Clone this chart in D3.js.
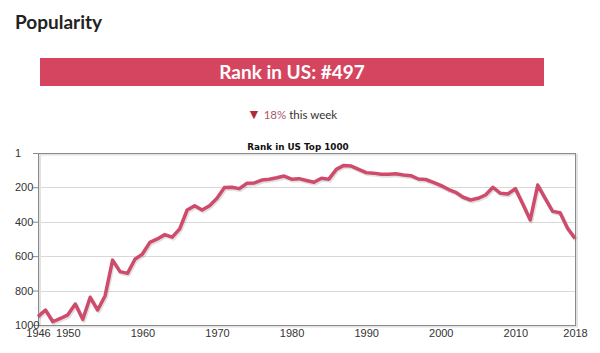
<!DOCTYPE html>
<html>
<head>
<meta charset="utf-8">
<script src="https://cdn.jsdelivr.net/npm/d3@7"></script>
<style>
  body { margin: 0; background: #fff; }
  svg { display: block; }
</style>
</head>
<body>
<div id="wrapper"></div>
<script>
// dados
const years = d3.range(1946, 2019)
const ranks = [
  951, 913, 981, 962, 941, 878, 967, 839, 913, 830,
  623, 690, 700, 618, 588, 520, 500, 475, 490, 442,
  332, 307, 332, 307, 264, 202, 200, 208, 177, 175,
  158, 153, 145, 135, 153, 150, 161, 171, 148, 153,
  96, 73, 77, 96, 115, 118, 125, 125, 122, 129,
  133, 152, 155, 171, 189, 212, 229, 258, 274, 264,
  245, 200, 235, 239, 208, 297, 390, 187, 264, 340,
  348, 438, 497
]
const yTicks = [1, 200, 400, 600, 800, 1000]
const xTicks = [1946, 1950, 1960, 1970, 1980, 1990, 2000, 2010, 2018]
const currentRank = 497
const weekChange = "18%"

const dataset = years.map((y, i) => ({ year: y, rank: ranks[i] }))

const dimensions = {
  width: 600,
  height: 353,
  margin: { top: 153, right: 25, bottom: 28, left: 38 },
}
dimensions.boundedWidth = dimensions.width - dimensions.margin.left - dimensions.margin.right
dimensions.boundedHeight = dimensions.height - dimensions.margin.top - dimensions.margin.bottom

const svg = d3.select("#wrapper")
  .append("svg")
    .attr("width", dimensions.width)
    .attr("height", dimensions.height)

// cabeçalho
svg.append("text")
  .attr("x", 15).attr("y", 29)
  .attr("font-family", "Lato, sans-serif")
  .attr("font-weight", "bold")
  .attr("font-size", 19)
  .attr("fill", "#222")
  .text("Popularity")

svg.append("rect")
  .attr("x", 40).attr("y", 58)
  .attr("width", 504).attr("height", 28)
  .attr("fill", "#d6455f")

svg.append("text")
  .attr("x", 292).attr("y", 78.5)
  .attr("text-anchor", "middle")
  .attr("font-family", "Lato, sans-serif")
  .attr("font-weight", "bold")
  .attr("font-size", 19)
  .attr("fill", "#fff")
  .text(`Rank in US: #${currentRank}`)

const change = svg.append("text")
  .attr("x", 292).attr("y", 119)
  .attr("text-anchor", "middle")
  .attr("font-family", "Lato, sans-serif")
  .attr("font-size", 11.5)
change.append("tspan").attr("fill", "#b02a3e").attr("font-size", 14).text("\u25BC")
change.append("tspan").attr("fill", "#a85a66").text(" " + weekChange)
change.append("tspan").attr("fill", "#333").text(" this week")

// título do gráfico
svg.append("text")
  .attr("x", 298).attr("y", 150)
  .attr("text-anchor", "middle")
  .attr("font-family", "'DejaVu Sans', sans-serif")
  .attr("font-weight", "bold")
  .attr("font-size", 8.8)
  .attr("fill", "#111")
  .text("Rank in US Top 1000")

const bounds = svg.append("g")
  .style("transform", `translate(${dimensions.margin.left}px, ${dimensions.margin.top}px)`)

const xScale = d3.scaleLinear()
  .domain([1946, 2018])
  .range([0, dimensions.boundedWidth])

const yScale = d3.scaleLinear()
  .domain([1, 1000])
  .range([0, dimensions.boundedHeight])

// linhas de grade
bounds.append("g")
  .selectAll("line")
  .data(yTicks.slice(1, -1))
  .join("line")
    .attr("x1", 0)
    .attr("x2", dimensions.boundedWidth)
    .attr("y1", d => Math.round(yScale(d)) + 0.5)
    .attr("y2", d => Math.round(yScale(d)) + 0.5)
    .attr("stroke", "#d8d8d8")

// moldura
bounds.append("rect")
  .attr("x", 2).attr("y", 1.5)
  .attr("width", dimensions.boundedWidth)
  .attr("height", dimensions.boundedHeight)
  .attr("fill", "none")
  .attr("stroke", "#e2e2e2")
  .attr("stroke-width", 2)
bounds.append("rect")
  .attr("x", 0.5).attr("y", 0.5)
  .attr("width", dimensions.boundedWidth)
  .attr("height", dimensions.boundedHeight)
  .attr("fill", "none")
  .attr("stroke", "#8a8a8a")

const lineGenerator = d3.line()
  .x(d => xScale(d.year))
  .y(d => yScale(d.rank))

// sombra
bounds.append("path")
  .attr("d", lineGenerator(dataset))
  .attr("transform", "translate(1,1.5)")
  .attr("fill", "none")
  .attr("stroke", "#000")
  .attr("stroke-opacity", 0.12)
  .attr("stroke-width", 4)
  .attr("stroke-linejoin", "round")

bounds.append("path")
  .attr("d", lineGenerator(dataset))
  .attr("fill", "none")
  .attr("stroke", "#cf4b6c")
  .attr("stroke-width", 3.5)
  .attr("stroke-linejoin", "round")

// eixos
const yAxisGenerator = d3.axisLeft(yScale)
  .tickValues(yTicks)
  .tickFormat(d3.format("d"))
  .tickSize(5)
  .tickPadding(0)
const yAxis = bounds.append("g")
  .call(yAxisGenerator)
yAxis.select(".domain").remove()
yAxis.selectAll(".tick line").attr("stroke", "#8a8a8a")
yAxis.selectAll(".tick text")
  .attr("x", -23)
  .attr("text-anchor", "start")
  .attr("font-family", "'Liberation Sans', sans-serif")
  .attr("font-size", 11)
  .attr("fill", "#333")

const xAxisGenerator = d3.axisBottom(xScale)
  .tickValues(xTicks)
  .tickFormat(d3.format("d"))
  .tickSize(0)
  .tickPadding(4)
const xAxis = bounds.append("g")
  .call(xAxisGenerator)
  .style("transform", `translateY(${dimensions.boundedHeight}px)`)
xAxis.select(".domain").remove()
xAxis.selectAll(".tick text")
  .attr("font-family", "'Liberation Sans', sans-serif")
  .attr("font-size", 11)
  .attr("fill", "#333")
</script>
</body>
</html>
